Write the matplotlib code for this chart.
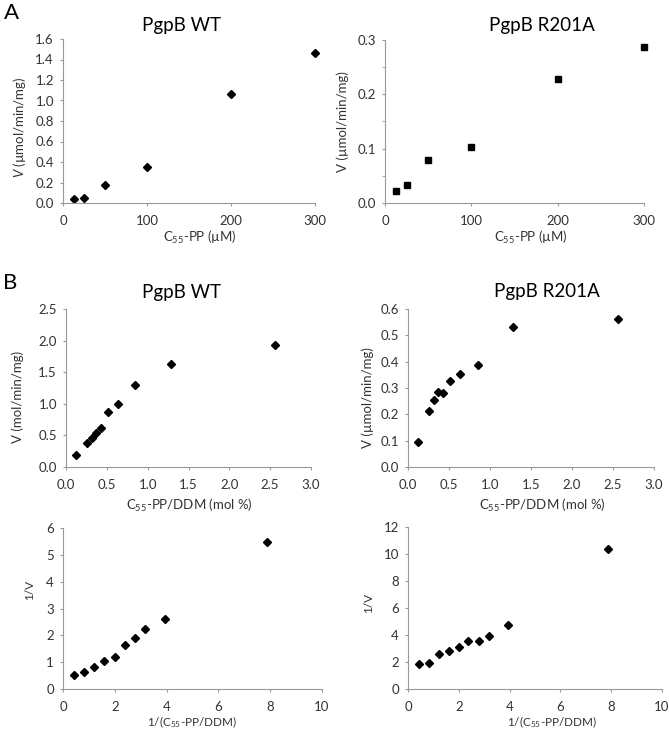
import numpy as np
import matplotlib
matplotlib.use('Agg')
import matplotlib.pyplot as plt
from matplotlib.ticker import MultipleLocator

plt.rcParams['font.family'] = ['Lato', 'DejaVu Sans']
plt.rcParams['mathtext.fontset'] = 'custom'
plt.rcParams['mathtext.rm'] = 'Lato'
plt.rcParams['mathtext.it'] = 'Lato:italic'

# panel A: V vs C55-PP concentration (uM)
conc_uM = [12.5, 25, 50, 100, 200, 300]
v_wt_a = [0.04, 0.05, 0.18, 0.35, 1.06, 1.46]
v_r201a_a = [0.022, 0.034, 0.080, 0.103, 0.228, 0.287]

# panel B: V vs C55-PP/DDM (mol %)
molpct = [0.128, 0.256, 0.32, 0.37, 0.43, 0.51, 0.64, 0.85, 1.28, 2.56]
v_wt_b = [0.185, 0.386, 0.46, 0.534, 0.624, 0.867, 0.994, 1.295, 1.633, 1.93]
v_r201a_b = [0.096, 0.211, 0.254, 0.284, 0.282, 0.325, 0.352, 0.389, 0.532, 0.562]

# double reciprocal
inv_molpct = [7.86, 3.94, 3.17, 2.78, 2.38, 1.99, 1.60, 1.21, 0.82, 0.42]
inv_v_wt = [5.47, 2.62, 2.24, 1.90, 1.65, 1.18, 1.03, 0.81, 0.63, 0.534]
inv_v_r201a = [10.35, 4.75, 3.96, 3.59, 3.59, 3.12, 2.85, 2.62, 1.90, 1.83]

W, H = 669, 734
fig = plt.figure(figsize=(W / 100, H / 100), dpi=100)


def box(l, r, t, b):
    return [l / W, 1 - b / H, (r - l) / W, (b - t) / H]


def style(ax, xmax, xstep, ymax, ystep, yminor=None, xfmt='%g', yfmt='%.1f'):
    ax.set_xlim(0, xmax)
    ax.set_ylim(0, ymax)
    ax.xaxis.set_major_locator(MultipleLocator(xstep))
    ax.yaxis.set_major_locator(MultipleLocator(ystep))
    if yminor:
        ax.yaxis.set_minor_locator(MultipleLocator(yminor))
        ax.tick_params(axis='y', which='minor', length=2.5, color='#999999')
    ax.xaxis.set_major_formatter(plt.FormatStrFormatter(xfmt))
    ax.yaxis.set_major_formatter(plt.FormatStrFormatter(yfmt))
    for s in ['top', 'right']:
        ax.spines[s].set_visible(False)
    for s in ['left', 'bottom']:
        ax.spines[s].set_color('#999999')
        ax.spines[s].set_linewidth(0.8)
    ax.tick_params(length=2.5, width=0.8, color='#999999', labelsize=9.5,
                   labelcolor='#333333', pad=4)
    ax.tick_params(axis='x', pad=6)


def txt(x, y, s, **kw):
    fig.text(x / W, 1 - y / H, s, ha='center', va='center', **kw)


mk = dict(color='black', linestyle='none', clip_on=False)

ax1 = fig.add_axes(box(63, 315, 39, 203))
ax1.plot(conc_uM, v_wt_a, marker='D', markersize=4.5, **mk)
style(ax1, 300, 100, 1.6, 0.2, xfmt='%d')

ax2 = fig.add_axes(box(385, 644, 40, 203))
ax2.plot(conc_uM, v_r201a_a, marker='s', markersize=4.2, **mk)
style(ax2, 300, 100, 0.3, 0.1, yminor=0.05, xfmt='%d')

ax3 = fig.add_axes(box(66, 311, 309, 467))
ax3.plot(molpct, v_wt_b, marker='D', markersize=4.5, **mk)
style(ax3, 3.0, 0.5, 2.5, 0.5, xfmt='%.1f')

ax4 = fig.add_axes(box(408, 654, 309, 467))
ax4.plot(molpct, v_r201a_b, marker='D', markersize=4.5, **mk)
style(ax4, 3.0, 0.5, 0.6, 0.1, xfmt='%.1f')

ax5 = fig.add_axes(box(63, 322, 528, 689))
ax5.plot(inv_molpct, inv_v_wt, marker='D', markersize=4.5, **mk)
style(ax5, 10, 2, 6, 1, yfmt='%d')

ax6 = fig.add_axes(box(408, 662, 527, 689))
ax6.plot(inv_molpct, inv_v_r201a, marker='D', markersize=4.5, **mk)
style(ax6, 10, 2, 12, 2, yfmt='%d')

# panel letters
txt(12, 13, 'A', fontsize=16)
txt(10, 283, 'B', fontsize=16)

# titles
tk = dict(fontsize=13.5)
txt(182, 26, 'PgpB WT', **tk)
txt(542, 26, 'PgpB R201A', **tk)
txt(182, 293, 'PgpB WT', **tk)
txt(547, 292, 'PgpB R201A', **tk)

# axis labels
lk = dict(fontsize=9.5, color='#333333')
txt(200, 237, 'C$_{55}$-PP (µM)', **lk)
txt(531, 237, 'C$_{55}$-PP (µM)', **lk)
txt(189, 505, 'C$_{55}$-PP/DDM (mol %)', **lk)
txt(542, 505, 'C$_{55}$-PP/DDM (mol %)', **lk)
txt(192, 722, '1/(C$_{55}$-PP/DDM)', fontsize=8.5, color='#333333')
txt(552, 722, '1/(C$_{55}$-PP/DDM)', fontsize=8.5, color='#333333')

txt(20, 127, '$\\it{V}$ (µmol/min/mg)', rotation=90, **lk)
txt(343, 122, 'V (µmol/min/mg)', rotation=90, **lk)
txt(18, 397, 'V (mol/min/mg)', rotation=90, **lk)
txt(368, 398, 'V (µmol/min/mg)', rotation=90, **lk)
txt(30, 590, '1/V', rotation=90, fontsize=8.5, color='#333333')
txt(369, 603, '1/V', rotation=90, fontsize=8.5, color='#333333')

fig.savefig('out.png', dpi=100)
